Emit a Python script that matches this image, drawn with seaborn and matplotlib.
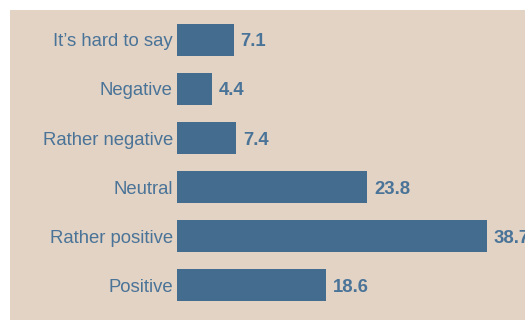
import pandas as pd
import matplotlib.pyplot as plt
import seaborn as sns
from matplotlib.patches import Rectangle

categories = ["It’s hard to say", "Negative", "Rather negative",
              "Neutral", "Rather positive", "Positive"]
values = [7.1, 4.4, 7.4, 23.8, 38.7, 18.6]

df = pd.DataFrame({"answer": categories, "share": values})

bg = "#e2d3c4"
bar_color = "#436c8f"
text_color = "#4a7398"

plt.rcParams["font.family"] = ["Liberation Sans", "DejaVu Sans"]

W, H = 525, 322
fig = plt.figure(figsize=(W / 100, H / 100), dpi=100)
fig.patch.set_facecolor("white")
# beige panel behind the chart
fig.patches.append(Rectangle((10 / W, 2 / H), (W - 10) / W, (H - 12) / H,
                             transform=fig.transFigure, facecolor=bg,
                             edgecolor="none", zorder=-1))

ax = fig.add_axes([177 / W, 2 / H, (W - 177) / W, (H - 12) / H])
ax.patch.set_alpha(0)

sns.barplot(data=df, x="share", y="answer", orient="h", color=bar_color,
            width=0.66, saturation=1, ax=ax)

ax.set_xlim(0, (W - 177) / 8.0)
ax.set_ylim(5.71, -0.61)
ax.set_xlabel("")
ax.set_ylabel("")
ax.set_xticks([])
for s in ax.spines.values():
    s.set_visible(False)
ax.tick_params(axis="y", length=0, pad=3, labelsize=13.3, labelcolor=text_color)

for i, v in enumerate(values):
    ax.annotate(f"{v}", (v, i), xytext=(5, 0), textcoords="offset points",
                va="center_baseline", ha="left", fontsize=13.3, fontweight="bold",
                color=text_color, annotation_clip=False)

fig.savefig("out.png", dpi=100)
